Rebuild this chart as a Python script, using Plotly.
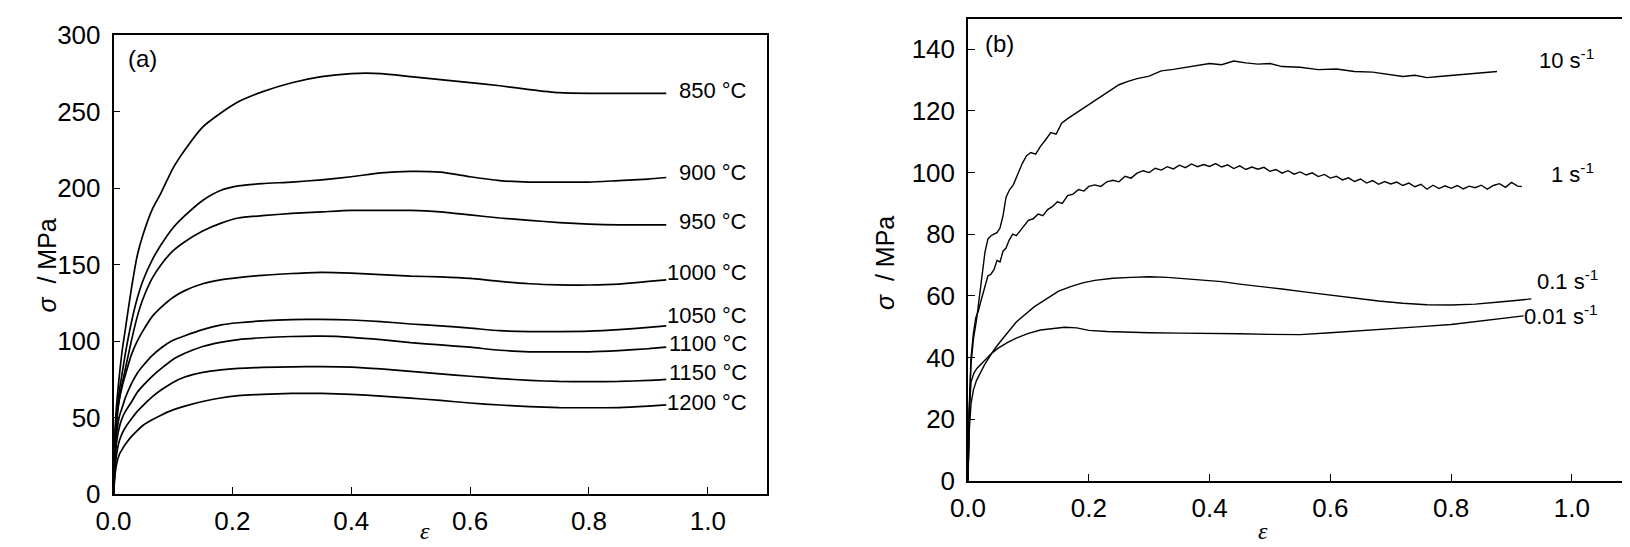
import plotly.graph_objs as go

# (a) flow curves for different temperatures
EPS_A = [0, 0.003, 0.006, 0.01, 0.015, 0.02, 0.03, 0.04, 0.05, 0.065,
         0.08, 0.1, 0.12, 0.15, 0.18, 0.21, 0.25, 0.3, 0.35, 0.4,
         0.45, 0.5, 0.55, 0.6, 0.65, 0.7, 0.75, 0.8, 0.85, 0.9, 0.93]

SIG_850 = [0, 45, 62, 78, 95, 108, 134, 156, 170, 186,
           197, 213, 225, 240, 249, 256.5, 263, 269, 273, 275,
           275, 273, 271, 269, 267, 264.5, 262.5, 262, 262, 262, 262]
SIG_900 = [0, 40, 55, 68, 80, 92, 112, 128, 140, 153,
           163, 174, 182, 192, 198.5, 201.5, 203, 204, 205.5, 207.5,
           210, 211, 210.5, 207.5, 205, 204, 204, 204, 205, 206, 207]
SIG_950 = [0, 38, 52, 63, 73, 82, 100, 116, 128, 141,
           150, 159, 165, 172, 177, 180.5, 182, 183.5, 184.5, 185.5,
           185.5, 185.5, 184.5, 182.5, 180.5, 179, 177.5, 176.5, 176, 176, 176]
SIG_1000 = [0, 33, 50, 62, 71, 78, 91, 100, 107, 116,
            122, 128.5, 133, 137.5, 140, 141.5, 143, 144.2, 145, 144.5,
            143.5, 142.5, 142, 141, 139, 137.5, 136.8, 136.7, 137.3, 139, 140]
SIG_1050 = [0, 28, 42, 51, 57, 63, 72, 79, 84, 90.5,
            95.5, 100.5, 103.5, 107.5, 110.5, 112, 113.2, 114, 114.2, 113.8,
            112.8, 111.2, 110, 108.5, 106.8, 106.2, 106.2, 106.5, 107.5, 109, 110]
SIG_1100 = [0, 24, 36, 44, 50, 54, 60, 66.5, 71, 77,
            82, 88, 92, 96.5, 99.2, 101, 102.2, 103, 103.2, 102.5,
            101, 99, 97.5, 96, 94, 93, 93, 93, 93.8, 95, 96]
SIG_1150 = [0, 18, 28, 35, 40, 43.5, 49, 54, 58, 63.5,
            68, 73, 76.5, 79.5, 81.2, 82.2, 82.8, 83.2, 83.3, 83,
            81.8, 80.2, 78.5, 77, 75.5, 74.3, 73.6, 73.5, 73.6, 74.3, 75]
SIG_1200 = [0, 14, 21, 26, 29.5, 32.5, 37.5, 41.5, 45, 48.5,
            51.5, 55, 57.5, 60.5, 62.8, 64.3, 65.2, 65.8, 65.8, 65.2,
            64, 62.7, 61.2, 59.5, 58.2, 57.2, 56.5, 56.4, 56.5, 57.5, 58.3]

TEMP_LABELS = ["850 °C", "900 °C", "950 °C", "1000 °C",
               "1050 °C", "1100 °C", "1150 °C", "1200 °C"]
TEMP_LABEL_Y = [264, 210, 178, 145, 116.5, 98.7, 79.5, 60]

# (b) flow curves for different strain rates
EPS_10 = [0, 0.002, 0.005, 0.009, 0.014, 0.019, 0.024, 0.028, 0.033, 0.038,
          0.043, 0.048, 0.053, 0.058, 0.063, 0.069, 0.075, 0.082, 0.09, 0.097,
          0.104, 0.112, 0.12, 0.128, 0.137, 0.146, 0.155, 0.165, 0.175, 0.19,
          0.205, 0.22, 0.235, 0.25, 0.265, 0.28, 0.3, 0.32, 0.34, 0.36,
          0.38, 0.4, 0.42, 0.44, 0.46, 0.48, 0.5, 0.52, 0.55, 0.58,
          0.61, 0.64, 0.67, 0.7, 0.72, 0.74, 0.76, 0.78, 0.8, 0.83,
          0.86, 0.876]
SIG_10 = [0, 22, 38, 46, 52, 60, 68, 74, 78.5, 79.5,
          80, 80.5, 82, 86, 92, 94.5, 96, 99.5, 103, 105.5,
          106.5, 106, 108.5, 110.5, 113, 112.5, 116, 117.5, 118.8, 120.8,
          122.5, 124.5, 126.5, 128.5, 129.6, 130.5, 131.3, 133, 133.5, 134.2,
          134.8, 135.4, 135, 136.2, 135.6, 135.2, 135.4, 134.4, 134.2, 133.4,
          133.6, 132.8, 132.6, 131.7, 131.2, 131.6, 130.8, 131.2, 131.5, 132,
          132.4, 132.8]

EPS_1 = [0, 0.002, 0.005, 0.009, 0.013, 0.017, 0.021, 0.025, 0.029, 0.033,
         0.038, 0.043, 0.048, 0.053, 0.058, 0.063, 0.068, 0.074, 0.08, 0.086,
         0.093, 0.1, 0.108, 0.116, 0.124, 0.132, 0.14, 0.148, 0.156, 0.165,
         0.174, 0.183, 0.192, 0.2, 0.21, 0.22, 0.23, 0.24, 0.25, 0.26,
         0.27, 0.28, 0.29, 0.3, 0.31, 0.32, 0.33, 0.34, 0.35, 0.36,
         0.37, 0.38, 0.39, 0.4, 0.41, 0.42, 0.43, 0.44, 0.45, 0.46,
         0.47, 0.48, 0.49, 0.5, 0.51, 0.52, 0.53, 0.54, 0.55, 0.56,
         0.57, 0.58, 0.59, 0.6, 0.61, 0.62, 0.63, 0.64, 0.65, 0.66,
         0.67, 0.68, 0.69, 0.7, 0.71, 0.72, 0.73, 0.74, 0.75, 0.76,
         0.77, 0.78, 0.79, 0.8, 0.81, 0.82, 0.83, 0.84, 0.85, 0.86,
         0.87, 0.88, 0.89, 0.9, 0.91, 0.917]
SIG_1 = [0, 24, 40, 48, 53, 55, 58, 61, 64, 66.5,
         67, 68.5, 71.5, 71, 74.5, 75.5, 78, 80, 79.5, 81,
         82.5, 84.5, 85, 86.5, 86, 88, 89, 90.5, 90, 92.5,
         93, 94.5, 94, 95.5, 96, 95.5, 97, 97.5, 97, 98.8,
         98.2, 99.8, 100.6, 100, 101.4, 100.8, 101.9, 101.2, 102.4, 101.6,
         102.8, 101.9, 102.6, 102, 102.9, 101.8, 102.5, 101.3, 102.2, 101,
         101.8, 101.1, 101.7, 100.4, 101, 99.8, 100.6, 99.5, 100.2, 99.2,
         99.9, 98.7, 99.4, 98.2, 98.8, 97.6, 98.3, 97.1, 97.9, 96.6,
         97.4, 96.2, 97.1, 96.3, 96.9, 95.8, 96.6, 95.4, 96.2, 94.6,
         95.9, 94.8, 95.7, 94.9, 95.8, 94.7, 95.6, 95.1, 95.9, 94.6,
         95.8, 96.4, 95.2, 96.8, 95.6, 95.5]

EPS_01 = [0, 0.002, 0.005, 0.009, 0.014, 0.02, 0.027, 0.035, 0.045, 0.055,
          0.065, 0.08, 0.095, 0.11, 0.13, 0.15, 0.17, 0.19, 0.21, 0.24,
          0.27, 0.3, 0.33, 0.36, 0.39, 0.42, 0.45, 0.48, 0.52, 0.56,
          0.6, 0.64, 0.68, 0.72, 0.76, 0.8, 0.84, 0.88, 0.91, 0.933]
SIG_01 = [0, 16, 25, 29.5, 32.5, 35, 37.5, 40, 43, 45.5,
          48, 51.5, 54, 56.5, 59, 61.5, 63, 64.2, 65, 65.7,
          66, 66.2, 66, 65.6, 65.2, 64.6, 63.8, 63.2, 62.2, 61.2,
          60.2, 59.2, 58.3, 57.6, 57.1, 57, 57.3, 58, 58.6, 59]

EPS_001 = [0, 0.002, 0.005, 0.01, 0.015, 0.022, 0.03, 0.04, 0.05, 0.065,
           0.08, 0.1, 0.12, 0.14, 0.16, 0.18, 0.2, 0.23, 0.26, 0.3,
           0.35, 0.4, 0.45, 0.5, 0.55, 0.6, 0.65, 0.7, 0.75, 0.8,
           0.85, 0.9, 0.92]
SIG_001 = [0, 22, 32, 35, 36.5, 38, 39.5, 41.5, 43, 44.8,
           46.3, 47.8, 48.9, 49.4, 49.8, 49.6, 48.8, 48.4, 48.2, 48,
           47.9, 47.9, 47.7, 47.5, 47.4, 48, 48.6, 49.2, 50, 50.7,
           51.9, 53, 53.5]

RATE_LABELS = ["10 s<sup>-1</sup>", "1 s<sup>-1</sup>",
               "0.1 s<sup>-1</sup>", "0.01 s<sup>-1</sup>"]
RATE_LABEL_X = [1.040, 1.040, 1.046, 1.046]
RATE_LABEL_Y = [136.9, 99.7, 65.1, 53.9]

X_TICKS = [0, 0.2, 0.4, 0.6, 0.8, 1.0]
X_TICK_TEXT = ["0.0", "0.2", "0.4", "0.6", "0.8", "1.0"]

FONT = "Arial, Liberation Sans, sans-serif"
SERIF = "Times New Roman, Liberation Serif, serif"

fig = go.Figure()

for sig in [SIG_850, SIG_900, SIG_950, SIG_1000, SIG_1050, SIG_1100, SIG_1150, SIG_1200]:
    fig.add_trace(go.Scatter(x=EPS_A, y=sig, mode="lines", xaxis="x", yaxis="y",
                             line=dict(color="black", width=1.7, shape="spline", smoothing=0.6),
                             showlegend=False, hoverinfo="skip"))

for eps, sig in [(EPS_10, SIG_10), (EPS_1, SIG_1), (EPS_01, SIG_01), (EPS_001, SIG_001)]:
    fig.add_trace(go.Scatter(x=eps, y=sig, mode="lines", xaxis="x2", yaxis="y2",
                             line=dict(color="black", width=1.4),
                             showlegend=False, hoverinfo="skip"))

def x_axis(domain, anchor):
    return dict(domain=domain, anchor=anchor, range=[0, 1.1], automargin=False,
                tickmode="array", tickvals=X_TICKS, ticktext=X_TICK_TEXT,
                ticks="inside", ticklen=7, tickwidth=1, tickcolor="black",
                showline=True, linecolor="black", linewidth=1.5, mirror=True,
                showgrid=False, zeroline=False, ticklabelstandoff=3,
                tickfont=dict(family=FONT, size=26, color="black"))

def y_axis(domain, anchor, rng, dtick):
    return dict(domain=domain, anchor=anchor, range=rng, automargin=False,
                tick0=0, dtick=dtick,
                ticks="inside", ticklen=7, tickwidth=1, tickcolor="black",
                showline=True, linecolor="black", linewidth=1.5, mirror=True,
                showgrid=False, zeroline=False, ticklabelstandoff=6,
                tickfont=dict(family=FONT, size=26, color="black"))

annotations = []
for lab, y in zip(TEMP_LABELS, TEMP_LABEL_Y):
    annotations.append(dict(x=1.07, y=y, xref="x", yref="y", text=lab,
                            xanchor="right", showarrow=False,
                            font=dict(family=FONT, size=22, color="black")))
for lab, x, y in zip(RATE_LABELS, RATE_LABEL_X, RATE_LABEL_Y):
    annotations.append(dict(x=x, y=y, xref="x2", yref="y2", text=lab,
                            xanchor="right", showarrow=False,
                            font=dict(family=FONT, size=22, color="black")))

annotations += [
    dict(x=0.021, y=285, xref="x", yref="y", text="(a)", xanchor="left",
         showarrow=False, font=dict(family=FONT, size=24, color="black")),
    dict(x=0.025, y=142, xref="x2", yref="y2", text="(b)", xanchor="left",
         showarrow=False, font=dict(family=FONT, size=24, color="black")),
    dict(x=22.5 / 1630, y=1 - 258 / 547, xref="paper", yref="paper",
         text="<i>σ</i>  / MPa", textangle=-90, showarrow=False,
         font=dict(family=FONT, size=25, color="black")),
    dict(x=877 / 1630, y=1 - 255 / 547, xref="paper", yref="paper",
         text="<i>σ</i>  / MPa", textangle=-90, showarrow=False,
         font=dict(family=FONT, size=25, color="black")),
    dict(x=410 / 1630, y=1 - 538 / 547, xref="paper", yref="paper",
         text="<i>ε</i>", showarrow=False,
         font=dict(family=SERIF, size=24, color="black")),
    dict(x=1262 / 1630, y=1 - 538 / 547, xref="paper", yref="paper",
         text="<i>ε</i>", showarrow=False,
         font=dict(family=SERIF, size=24, color="black")),
]

fig.update_layout(
    width=1630, height=547, autosize=False,
    margin=dict(l=0, r=0, t=0, b=0, pad=0),
    paper_bgcolor="white", plot_bgcolor="white",
    xaxis=x_axis([105.5 / 1630, 759.3 / 1630], "y"),
    yaxis=y_axis([1 - 486 / 547, 1 - 27.3 / 547], "x", [0, 300], 50),
    xaxis2=x_axis([960 / 1630, 1624.3 / 1630], "y2"),
    yaxis2=y_axis([1 - 472.7 / 547, 1 - 10.5 / 547], "x2", [0, 150], 20),
    annotations=annotations,
)

fig.write_html("out.html")
